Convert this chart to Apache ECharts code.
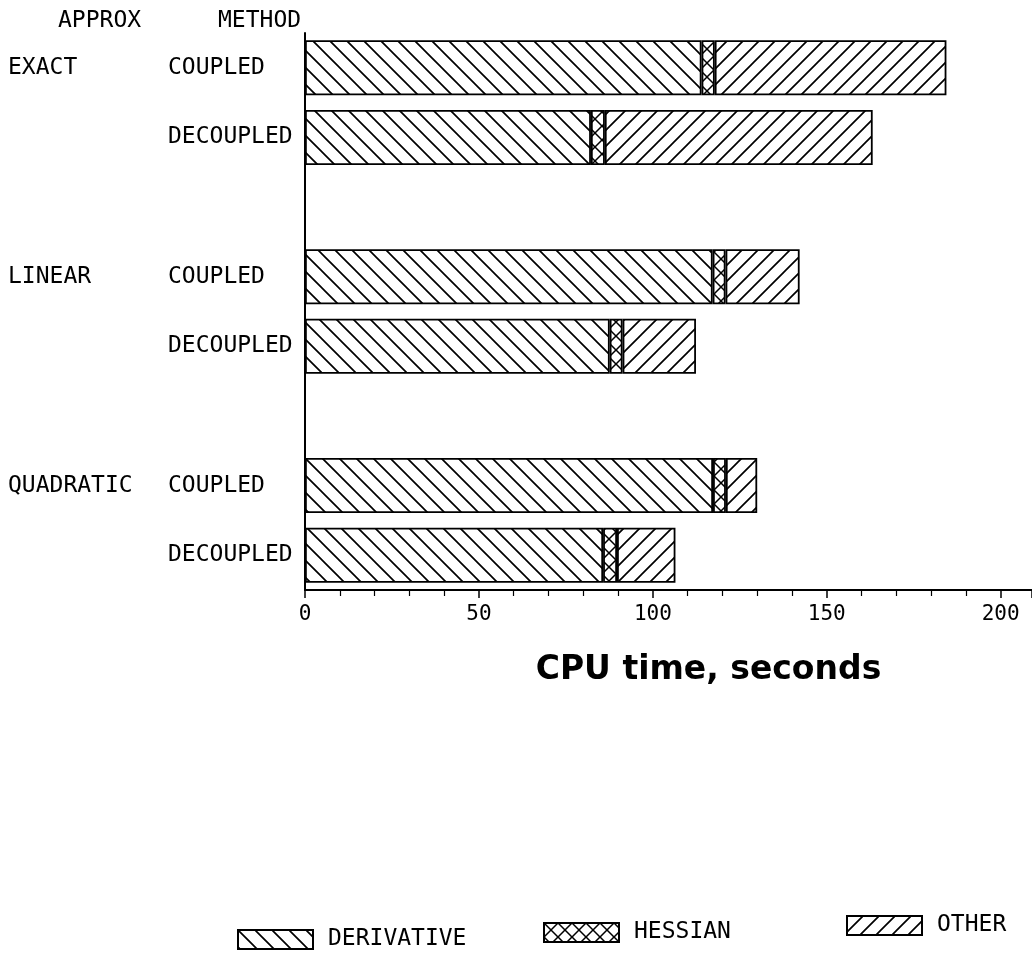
<!DOCTYPE html>
<html>
<head>
<meta charset="utf-8">
<script src="https://cdn.jsdelivr.net/npm/echarts@6/dist/echarts.min.js"></script>
<style>
  html, body { margin: 0; padding: 0; background: #fff; }
  #main { width: 1032px; height: 956px; }
</style>
</head>
<body>
<div id="main"></div>
<script>
// rows top -> bottom, '' rows are the gaps between groups
const approx = ['EXACT', '', '', 'LINEAR', '', '', 'QUADRATIC', '']
const method = ['COUPLED', 'DECOUPLED', '', 'COUPLED', 'DECOUPLED', '', 'COUPLED', 'DECOUPLED']
const rows = method.map((m, i) => 'row' + i)
const seriesNames = ['DERIVATIVE', 'HESSIAN', 'OTHER']
// CPU time, seconds
const derivative = [114.0, 82.2, '-', 117.2, 87.6, '-', 117.3, 85.7]
const hessian = [3.8, 4.0, '-', 3.7, 3.7, '-', 3.7, 4.0]
const other = [66.6, 77.0, '-', 21.3, 21.1, '-', 9.0, 16.8]
const xTicks = { min: 0, max: 209, interval: 50 }

const MONO = '"DejaVu Sans Mono", "Liberation Mono", monospace'

// hatch fills drawn on small canvases
function hatch(size, dirs, lw) {
  const c = document.createElement('canvas')
  c.width = c.height = size
  const g = c.getContext('2d')
  g.fillStyle = '#fff'
  g.fillRect(0, 0, size, size)
  g.strokeStyle = '#000'
  g.lineWidth = lw
  dirs.forEach(d => {
    g.beginPath()
    if (d === '/') {
      [0, size, 2 * size].forEach(k => {
        g.moveTo(k + 1, -1)
        g.lineTo(k - size - 1, size + 1)
      })
    } else {
      [-size, 0, size].forEach(k => {
        g.moveTo(k - 1, -1)
        g.lineTo(k + size + 1, size + 1)
      })
    }
    g.stroke()
  })
  return { image: c, repeat: 'repeat' }
}

const fills = [hatch(17, ['\\'], 1.7), hatch(14, ['/', '\\'], 1.5), hatch(16, ['/'], 1.7)]
const values = [derivative, hessian, other]

const chart = echarts.init(document.getElementById('main'))
chart.setOption({
  animation: false,
  backgroundColor: '#fff',
  title: [
    { text: 'APPROX', left: 53, top: 5, textStyle: { fontFamily: MONO, fontSize: 23, fontWeight: 'normal', color: '#000' } },
    { text: 'METHOD', left: 213, top: 5, textStyle: { fontFamily: MONO, fontSize: 23, fontWeight: 'normal', color: '#000' } }
  ],
  legend: [
    { left: 237, top: 928 },
    { left: 543, top: 921 },
    { left: 846, top: 914 }
  ].map((pos, i) => ({
    ...pos,
    data: [seriesNames[i]],
    padding: 0,
    itemWidth: 75,
    itemHeight: 19,
    icon: 'rect',
    selectedMode: false,
    textStyle: { fontFamily: MONO, fontSize: 23, color: '#000', padding: [0, 0, 0, 10] }
  })),
  grid: { left: 305, right: 0, top: 33, bottom: 366, containLabel: false },
  xAxis: {
    type: 'value',
    min: xTicks.min,
    max: xTicks.max,
    interval: xTicks.interval,
    name: 'CPU time, seconds',
    nameLocation: 'middle',
    nameGap: 64,
    nameTextStyle: {
      fontFamily: '"DejaVu Sans", sans-serif',
      fontWeight: 'bold',
      fontSize: 33,
      color: '#000',
      padding: [0, 0, 0, 80]
    },
    axisLine: { show: true, lineStyle: { color: '#000', width: 2 } },
    axisTick: { show: true, length: 8, lineStyle: { color: '#000', width: 1.5 } },
    minorTick: { show: true, splitNumber: 5, length: 6, lineStyle: { color: '#000', width: 1.2 } },
    axisLabel: { showMaxLabel: false, margin: 14, fontFamily: MONO, fontSize: 21, color: '#000' },
    splitLine: { show: false },
    minorSplitLine: { show: false }
  },
  yAxis: {
    type: 'category',
    inverse: true,
    data: rows,
    axisLine: { show: true, lineStyle: { color: '#000', width: 2 } },
    axisTick: { show: false },
    splitLine: { show: false },
    axisLabel: {
      interval: 0,
      align: 'left',
      margin: 297,
      formatter: (v, i) => `{a|${approx[i]}}{m|${method[i]}}`,
      rich: {
        a: { width: 160, fontFamily: MONO, fontSize: 23, color: '#000' },
        m: { fontFamily: MONO, fontSize: 23, color: '#000' }
      }
    }
  },
  series: seriesNames.map((name, i) => ({
    name: name,
    type: 'bar',
    stack: 'cpu',
    barWidth: 55,
    data: values[i],
    itemStyle: { color: fills[i], borderColor: '#000', borderWidth: 1.8 }
  }))
})
</script>
</body>
</html>
